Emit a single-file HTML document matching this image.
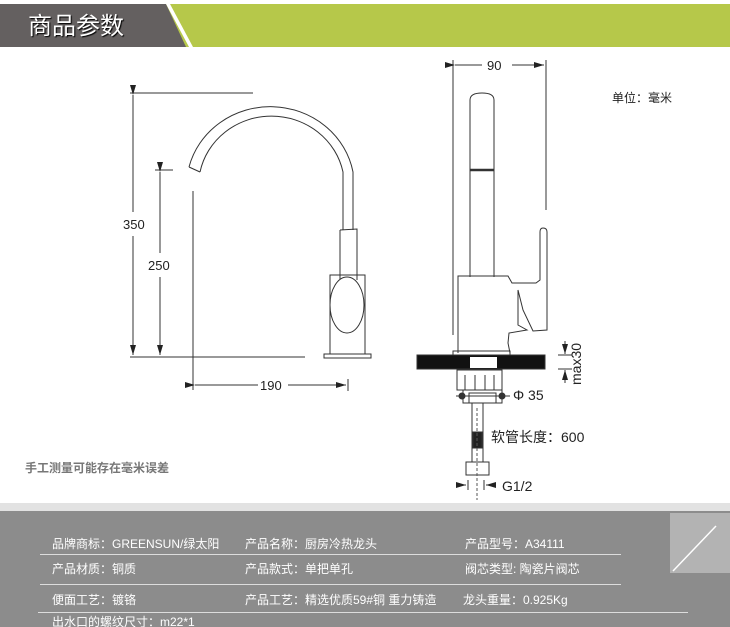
<!DOCTYPE html>
<html><head><meta charset="utf-8"><style>
html,body{margin:0;padding:0;background:#fff;width:730px;height:627px;overflow:hidden;font-family:"Liberation Sans","Noto Sans CJK SC",sans-serif}
</style></head><body>
<svg width="730" height="627" viewBox="0 0 730 627" xmlns="http://www.w3.org/2000/svg" style="position:absolute;left:0;top:0">
<defs>
<marker id="a" viewBox="0 0 10 6" refX="10" refY="3" markerWidth="10" markerHeight="6" orient="auto" markerUnits="userSpaceOnUse"><path d="M0,0L10,3L0,6z" fill="#222"/></marker>
</defs>
<!-- header -->
<rect x="0" y="4" width="730" height="43" fill="#b6c84a"/>
<polygon points="0,4 166,4 186,47 0,47" fill="#646060"/>
<polygon points="166,4 170,4 193,47 189,47" fill="#fff"/>
<text x="28" y="34" font-size="24" fill="#fff" font-family="Liberation Sans,Noto Sans CJK SC,sans-serif" style="text-shadow:1px 1px 1px #000">商品参数</text>

<g stroke="#333" stroke-width="1" fill="none">
<!-- left drawing dims -->
<line x1="130" y1="93" x2="253" y2="93"/>
<line x1="133" y1="95" x2="133" y2="212" marker-start="url(#a)"/>
<line x1="133" y1="236" x2="133" y2="355" marker-end="url(#a)"/>
<line x1="155" y1="170" x2="173" y2="170"/>
<line x1="160" y1="172" x2="160" y2="253" marker-start="url(#a)"/>
<line x1="160" y1="277" x2="160" y2="355" marker-end="url(#a)"/>
<line x1="130" y1="357" x2="305" y2="357"/>
<line x1="193" y1="191" x2="193" y2="390"/>
<line x1="195" y1="385" x2="258" y2="385" marker-start="url(#a)"/>
<line x1="288" y1="385" x2="346" y2="385" marker-end="url(#a)"/>
<line x1="348" y1="379" x2="348" y2="391"/>
<!-- spout -->
<path d="M189,167 A84,80 0 0 1 353,172 L353,230"/>
<path d="M200,172 A73,70 0 0 1 343,172 L343,230"/>
<line x1="189" y1="167" x2="200" y2="172"/>
<path d="M340,230 L357,229 L357,280 M340,230 L340,280"/>
<rect x="330" y="275" width="35" height="79"/>
<ellipse cx="347" cy="305" rx="17" ry="28" fill="#fff"/>
<rect x="324" y="354" width="47" height="4"/>

<!-- right drawing -->
<line x1="453" y1="60" x2="453" y2="335"/>
<line x1="546" y1="60" x2="546" y2="210"/>
<line x1="455" y1="65" x2="482" y2="65" marker-start="url(#a)"/>
<line x1="512" y1="65" x2="544" y2="65" marker-end="url(#a)"/>
<path d="M470,277 L470,100 Q470,93 482,93 Q494,93 494,100 L494,277"/>
<line x1="470" y1="170" x2="494" y2="170" stroke-width="2.5"/>
<path d="M458,353 L458,276 L508,276 L512,283 L536,283 L540,280 L540,232 Q540,228 543,228 Q547,228 547,232 L547,330 L533,331 L523,310 L518,290 L518,325 L527,330 L509,333 L508,343 L510,353"/>
<rect x="453" y="351" width="57" height="4"/>
<rect x="417" y="355" width="128" height="14" fill="#111"/>
<rect x="470" y="357" width="27" height="11" fill="#fff" stroke="none"/>
<rect x="457" y="370" width="45" height="20" fill="#fff"/>
<line x1="465" y1="375" x2="465" y2="390"/><line x1="475" y1="375" x2="475" y2="390"/><line x1="485" y1="375" x2="485" y2="390"/><line x1="494" y1="375" x2="494" y2="390"/>
<rect x="463" y="390" width="39" height="13"/>
<rect x="469" y="393" width="27" height="10"/>
<circle cx="462" cy="396" r="3" fill="#333"/><circle cx="502" cy="396" r="3" fill="#333"/>
<line x1="456" y1="396" x2="510" y2="396"/>
<rect x="472" y="403" width="11" height="59"/>
<rect x="473" y="432" width="9" height="16" fill="#222"/>
<rect x="466" y="462" width="23" height="13"/>
<line x1="477" y1="408" x2="477" y2="500" stroke-dasharray="3,2" stroke="#555"/>
<line x1="456" y1="485" x2="466" y2="485" marker-end="url(#a)"/>
<line x1="468" y1="480" x2="468" y2="490"/>
<line x1="496" y1="485" x2="486" y2="485" marker-end="url(#a)"/>
<line x1="484" y1="480" x2="484" y2="490"/>
<!-- max30 -->
<line x1="558" y1="355" x2="572" y2="355"/>
<line x1="558" y1="369" x2="572" y2="369"/>
<line x1="565" y1="341" x2="565" y2="354" marker-end="url(#a)"/>
<line x1="565" y1="383" x2="565" y2="370" marker-end="url(#a)"/>
</g>
<g font-family="Liberation Sans,Noto Sans CJK SC,sans-serif" fill="#222">
<text x="123" y="229" font-size="13">350</text>
<text x="148" y="270" font-size="13">250</text>
<text x="260" y="390" font-size="13">190</text>
<text x="487" y="70" font-size="13">90</text>
<text x="612" y="102" font-size="12">单位：毫米</text>
<text x="513" y="400" font-size="14">Φ 35</text>
<text x="491" y="442" font-size="14">软管长度：600</text>
<text x="502" y="491" font-size="14">G1/2</text>
<text transform="translate(581,385) rotate(-90)" font-size="14">max30</text>
<text x="25" y="472" font-size="12" fill="#777" font-weight="bold">手工测量可能存在毫米误差</text>
</g>

<!-- bottom -->
<rect x="0" y="503" width="730" height="8" fill="#e2e2e2"/>
<rect x="0" y="511" width="730" height="116" fill="#8c8c8c"/>
<rect x="670" y="513" width="60" height="60" fill="#b3b3b3"/>
<line x1="673" y1="571" x2="716" y2="526" stroke="#fff" stroke-width="1.5"/>
<g stroke="#ddd" stroke-width="1">
<line x1="40" y1="554.5" x2="621" y2="554.5"/>
<line x1="40" y1="584.5" x2="621" y2="584.5"/>
<line x1="38" y1="612.5" x2="688" y2="612.5"/>
</g>
<g font-family="Liberation Sans,Noto Sans CJK SC,sans-serif" fill="#fff" font-size="12">
<text x="52" y="548">品牌商标：GREENSUN/绿太阳</text>
<text x="245" y="548">产品名称：厨房冷热龙头</text>
<text x="465" y="548">产品型号：A34111</text>
<text x="52" y="573">产品材质：铜质</text>
<text x="245" y="573">产品款式：单把单孔</text>
<text x="465" y="573">阀芯类型: 陶瓷片阀芯</text>
<text x="52" y="604">便面工艺：镀铬</text>
<text x="245" y="604">产品工艺：精选优质59#铜 重力铸造</text>
<text x="463" y="604">龙头重量：0.925Kg</text>
<text x="52" y="626">出水口的螺纹尺寸：m22*1</text>
</g>
</svg>
</body></html>
